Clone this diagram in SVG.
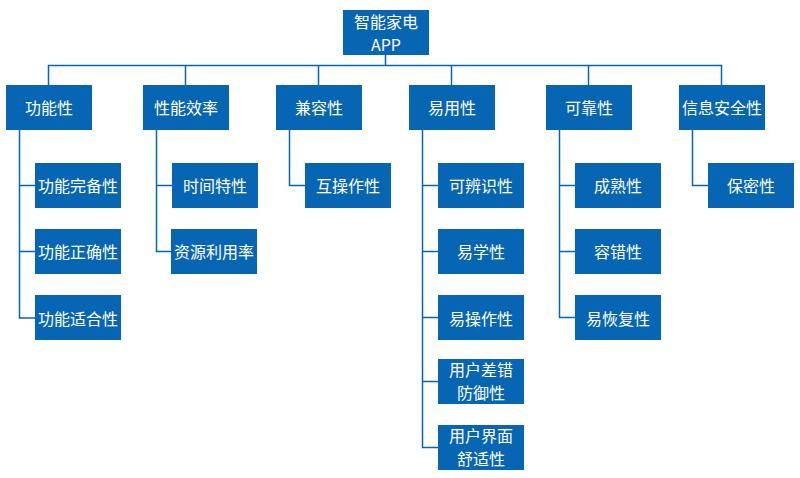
<svg xmlns="http://www.w3.org/2000/svg" width="800" height="478" viewBox="0 0 800 478">
<style>
.b{fill:#0766b3}
.t{fill:#fff;font-family:"Noto Sans CJK SC","Liberation Sans",sans-serif;font-size:16px;text-anchor:middle;dominant-baseline:central}
.c{fill:none;stroke:#0766b3;stroke-width:1.5}
</style>
<rect width="800" height="478" fill="#fff"/>
<g id="connectors" class="c">
<path d="M385.5,55V65.5M48.5,85V65.5H721.5V85M185.5,65.5V85M318.5,65.5V85M451.5,65.5V85M588.5,65.5V85"/>
<path d="M19.5,130V318H35M19.5,185.5H35M19.5,251.5H35"/>
<path d="M156.5,130V251.5H172M156.5,185.5H172"/>
<path d="M289.5,130V185.5H305"/>
<path d="M422.5,130V447.5H438M422.5,185.5H438M422.5,251.5H438M422.5,317.5H438M422.5,381.5H438"/>
<path d="M559.5,130V317.5H575M559.5,185.5H575M559.5,251.5H575"/>
<path d="M692.5,130V185.5H708"/>
</g>
<g id="root"><rect class="b" x="343" y="10" width="86" height="45"/><text class="t" x="386" y="21">智能家电</text><text class="t" x="386" y="44">APP</text></g>
<g id="n1"><rect class="b" x="6" y="85" width="86" height="45"/><text class="t" x="49" y="107">功能性</text></g>
<g id="n2"><rect class="b" x="143" y="85" width="86" height="45"/><text class="t" x="186" y="107">性能效率</text></g>
<g id="n3"><rect class="b" x="276" y="85" width="86" height="45"/><text class="t" x="319" y="107">兼容性</text></g>
<g id="n4"><rect class="b" x="409" y="85" width="86" height="45"/><text class="t" x="452" y="107">易用性</text></g>
<g id="n5"><rect class="b" x="546" y="85" width="86" height="45"/><text class="t" x="589" y="107">可靠性</text></g>
<g id="n6"><rect class="b" x="679" y="85" width="86" height="45"/><text class="t" x="722" y="107">信息安全性</text></g>
<g id="n1a"><rect class="b" x="35" y="163" width="86" height="45"/><text class="t" x="78" y="185">功能完备性</text></g>
<g id="n1b"><rect class="b" x="35" y="229" width="86" height="45"/><text class="t" x="78" y="251">功能正确性</text></g>
<g id="n1c"><rect class="b" x="35" y="295" width="86" height="45"/><text class="t" x="78" y="318">功能适合性</text></g>
<g id="n2a"><rect class="b" x="172" y="163" width="86" height="45"/><text class="t" x="215" y="185">时间特性</text></g>
<g id="n2b"><rect class="b" x="171" y="229" width="86" height="45"/><text class="t" x="214" y="251">资源利用率</text></g>
<g id="n3a"><rect class="b" x="305" y="163" width="86" height="45"/><text class="t" x="348" y="185">互操作性</text></g>
<g id="n4a"><rect class="b" x="438" y="163" width="86" height="45"/><text class="t" x="481" y="185">可辨识性</text></g>
<g id="n4b"><rect class="b" x="438" y="229" width="86" height="45"/><text class="t" x="481" y="251">易学性</text></g>
<g id="n4c"><rect class="b" x="438" y="295" width="86" height="45"/><text class="t" x="481" y="318">易操作性</text></g>
<g id="n4d"><rect class="b" x="438" y="359" width="86" height="45"/><text class="t" x="481" y="369">用户差错</text><text class="t" x="481" y="392">防御性</text></g>
<g id="n4e"><rect class="b" x="438" y="425" width="86" height="45"/><text class="t" x="481" y="435">用户界面</text><text class="t" x="481" y="458">舒适性</text></g>
<g id="n5a"><rect class="b" x="575" y="163" width="86" height="45"/><text class="t" x="618" y="185">成熟性</text></g>
<g id="n5b"><rect class="b" x="575" y="229" width="86" height="45"/><text class="t" x="618" y="251">容错性</text></g>
<g id="n5c"><rect class="b" x="575" y="295" width="86" height="45"/><text class="t" x="618" y="318">易恢复性</text></g>
<g id="n6a"><rect class="b" x="708" y="163" width="86" height="45"/><text class="t" x="751" y="185">保密性</text></g>
</svg>
